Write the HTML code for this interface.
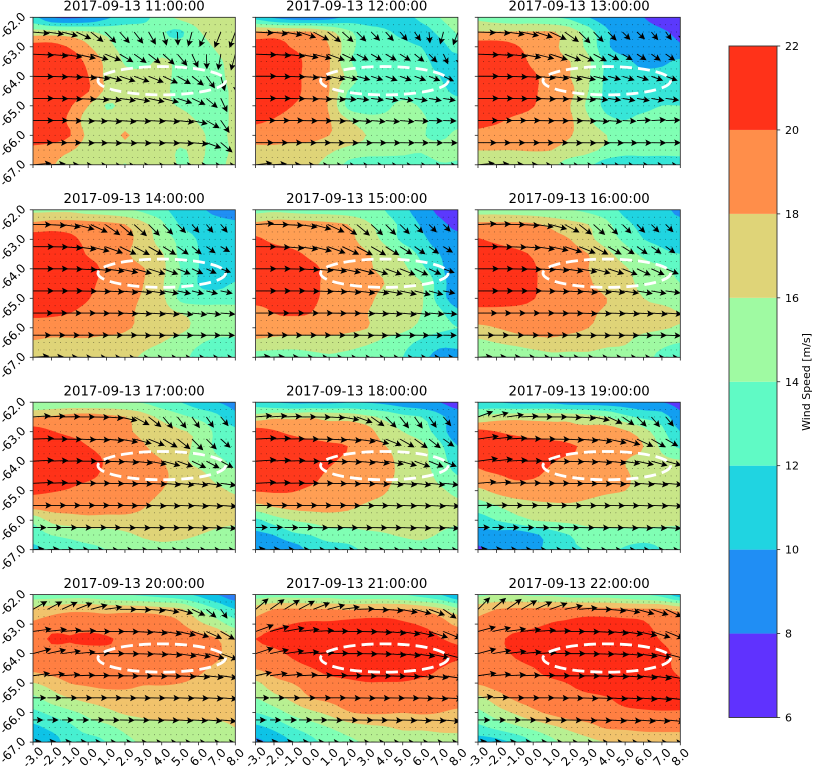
<!DOCTYPE html>
<html lang="en">
<head>
<meta charset="utf-8">
<title>Wind speed panels 2017-09-13</title>
<style>
html,body{margin:0;padding:0;background:#fff;width:815px;height:770px;overflow:hidden}
svg{display:block}
text{font-family:"DejaVu Sans","Liberation Sans",sans-serif;fill:#000}
</style>
</head>
<body>
<svg id="chart" width="815" height="770" viewBox="0 0 815 770" xmlns="http://www.w3.org/2000/svg"></svg>
<script>
const panelTimes = ["2017-09-13 11:00:00","2017-09-13 12:00:00","2017-09-13 13:00:00","2017-09-13 14:00:00","2017-09-13 15:00:00","2017-09-13 16:00:00","2017-09-13 17:00:00","2017-09-13 18:00:00","2017-09-13 19:00:00","2017-09-13 20:00:00","2017-09-13 21:00:00","2017-09-13 22:00:00"];
const panelBandCounts = [7,8,7,8,7,8,8,7,7,9,9,9];
const lonTicks = [-3,-2,-1,0,1,2,3,4,5,6,7,8];
const latTicks = [-62,-63,-64,-65,-66,-67];
const colorbarLevels = [6,8,10,12,14,16,18,20,22];
const ellipseCenter = [4.0,-64.15];
const ellipseRadii = [3.47,0.48];

const speed11 = [
[12.5,10,9.5,10,11.5,13,13.5,15,16.5,17,17,17],
[16.8,16.8,16.6,16.2,15.5,15,14.8,14.2,13.6,15.8,17,17],
[20.8,20.8,19.8,18.2,16.5,15.5,15,15,15,15,16.3,17],
[21,21,21,19.5,17.5,15.8,15.5,16.3,15.5,15,15.5,17],
[21,21,21,20,17.5,16.5,16.5,16.5,15.5,15,15.2,17],
[21,21,21,20.1,17.5,16.5,16.5,16.5,15.3,15,15,16.5],
[21,21,20.2,18,15.8,16.5,16.5,16.5,15.8,15,15,16.5],
[21,21,19.6,17,17,17,17,17,17,15.8,15,16.5],
[21,21,20.1,17.5,17,18.2,17,17,17,16.5,15.3,16.6],
[19.5,19,18.2,17,17,17,17,17,15.8,16.5,15,16.5],
[18.6,18.2,17,17,17,15.9,17,17,15.8,16.2,15.2,17]];
const speed12 = [
[11,9.5,8.5,8.3,9,10.5,11,11,11.3,12.5,14,15],
[18.2,18.3,18.2,18,16.5,14.5,12.8,12.3,11.5,11,12.5,14.2],
[21,21,19.8,19,18,15,13,12.8,12.5,12,11.3,13],
[21,21,21,19,18.1,14.5,12.7,12.8,12.6,12.4,11.5,11],
[21,21,20.8,19,18,15.5,13,12.8,12.6,12.4,12,10.8],
[21,21,20.8,19,18,14,13,13,13,12.8,12.5,11.5],
[21,21,20,19,17.8,13.5,13,13.5,14.5,13.8,13,12.8],
[20.3,19.8,19,19,18.1,16.2,14.8,14.5,14.5,14.3,13.3,13.2],
[19,19,19,18.8,18,17,16,15,14.8,14.2,13.5,14.5],
[17.5,17.5,17,16.8,16.3,15.5,15,14.8,14.5,14.2,14.8,14.5],
[17,17,16.7,16.2,15.5,13.5,12.8,12.8,13,13,13.8,13.8]];
const speed13 = [
[15.5,15,14.5,14.5,14,13.5,12,11,10.5,10,9.2,9.7],
[18.1,18.1,18.1,18.1,18.1,17,15,12.3,11.2,10.9,10.3,9.5],
[21,21,20.3,19,18.5,17,15.5,12.3,11.2,11.3,11.5,10.3],
[21,21,21,19.5,18.5,18,16.3,13.5,12.4,11.5,11.7,12.3],
[21,21,21,20.3,19,18,16.2,13.5,12.8,12.6,12.6,12.6],
[21,21,21,20.3,19,18.5,16,13.5,13,13,13,13.2],
[21,21,21,20.1,18.8,18,15.5,13.5,13.5,13.5,14,14],
[20.5,20.3,19.5,19,18.8,18.3,16.3,14.5,14,14.5,14.8,14.2],
[19.5,19,19,18.8,18.5,18.1,17,16,15,14.8,14.8,14.8],
[18,18,18,18.1,18,17.2,16.5,15.5,14.8,14.8,14.8,14.8],
[17,17,17,16.8,16.4,15,14.3,13,12.5,12.7,12.5,12.8]];
const speed14 = [
[15.5,15.5,15.5,15,14.8,14.2,13.5,12.5,11,10.3,9.5,8.8],
[18.5,19,19,18.8,18.5,18,16.5,14.5,11.8,11,10.7,10.4],
[21,20.8,20.4,19.5,19,18.5,17.2,15,13.5,11.8,11,10.5],
[21,21,21,19.8,19,18.3,17,16.2,13.5,12,10.7,10.5],
[21,21,21,20.8,19.5,18.8,18.1,16.5,14,12,11,10.8],
[21,21,21,20.5,19.3,18.8,18,16.2,14,11.9,11.2,12.2],
[21,21,21,20.1,19,18.5,17.8,16.5,13.5,13,13.2,13.5],
[20.4,20.3,20,19.3,19,18.5,17.5,16.8,16,15.2,14.8,14.5],
[19,19,19,19,19,18.3,17.5,17,16.5,15.5,15,14.8],
[17.8,17.5,17.5,17.5,17,17,16.5,16,15,14.2,13.5,13.5],
[16.5,16.5,16.5,16.5,16.5,16.3,15.8,15,14.5,13.5,13,13]];
const speed15 = [
[15.3,15.5,15.2,15,15,14.8,14.5,14,12.5,11,9.5,8.8],
[18.5,19,19,18.8,18.5,18,16.5,15,13.5,11.8,10.5,9.5],
[20.3,19.5,19,19,19,18.5,17.2,15.5,13.5,12.5,11,10.5],
[21,21,20.5,19.6,19,18.7,18.2,17,15.5,13.5,12,10.8],
[21,21,21,20.5,19.5,19,18.3,17.5,16.5,14.5,12.5,10.5],
[21,21,21,20.5,19.5,19,18.8,18,17,16.2,13,10.8],
[21,21,21,20.4,19.5,19,18.6,17.3,17,16.3,13,10.8],
[18.8,20,20.2,20,19,18.8,18.1,17,16.8,16,14.5,12.5],
[19,19,19,19,19,18.5,18.1,17,16.5,15.5,14.5,14],
[17.5,17.2,17,17,17,16.8,16.3,15.5,14.7,13.5,12.5,12.5],
[15,15,15,15.5,15.8,15.5,15,14.5,14,12.5,11.5,11.5]];
const speed16 = [
[15,15,14.8,14.5,14.2,14,13.5,12.8,11.5,11,10.5,9.5],
[18.5,18.5,18.5,18.3,17.5,16.7,16,14.5,12.5,11.5,11,10.5],
[20.1,19.5,19,19,18.5,18,16.5,15,13.5,12,11.5,10.8],
[21,21,20.5,19.8,19,18.7,18,16.5,15,13.5,12.5,12],
[21,21,21,20.2,19.2,19,18,17,16.2,15,14.3,13.5],
[21,21,21,20.2,19.3,19,18.3,17,16.5,15.5,14.8,14],
[20.5,21,21,20.1,19.2,19.2,18.8,18,16.8,16,15.5,15],
[19.5,19.2,19,19,18.9,18.8,18.3,17.7,17.3,16.5,16.5,16],
[17.5,18,18.6,19,19,18.5,18,17.5,17,16.5,16.2,15.8],
[15.5,16,16.5,17,17.3,17,17,16.5,16.2,15,14.5,14],
[14.5,14.5,14.5,15,15.5,15.5,15.5,15,15,14.5,13.5,12.5]];
const speed17 = [
[14,14.2,14.2,14,14.2,14,13.8,13,12,11,10,9.5],
[17.8,18.2,18.8,19,18.5,18,16.8,15.5,14.5,13.5,12.5,10.5],
[20.8,20.1,19.5,19,18.5,18.3,17.5,16.8,16.2,15.5,13.5,12.5],
[21,21,21,20,19.3,19,18.2,17,16.5,15.5,13.5,13],
[21,21,21,20.8,19.8,19.3,18.8,18.1,16.5,15.5,14.5,13.5],
[21,21,21,20.5,19.5,19,18.8,18.5,17,16.5,15.5,14.5],
[20.2,20.1,19.8,19,19,18.7,18.5,18,17,16.5,16.3,15.8],
[19,19,19,19,18.8,18.5,18.1,17.5,17,16.8,16.5,16.3],
[14.5,16.5,17,17.3,17.3,17.5,17.5,17.3,17,17,16.5,16.3],
[13,14,14.5,15,15,15.5,16.3,16.5,16.5,16,15.5,15.2],
[11.5,12.3,13,13.5,14,14.2,15,15.5,15,14.8,14.5,14.3]];
const speed18 = [
[13,12,11.5,11.5,11.5,11.8,11.8,11.5,11,10.5,10,9],
[16.8,17.5,17.5,17.8,17.5,17.3,16.5,15.5,14.5,14,12.5,11],
[20.8,20.2,19.5,18.9,18.2,18.8,18.8,17,16,15,13,10.5],
[21,21,21,20.9,20.5,20,19,18.1,17,16.5,14.5,12],
[21,21,21,21,20.3,19.5,19,18.7,17.3,16.5,15,12.8],
[21,21,21,20.7,19.5,19,18.8,18.5,17.5,16.8,15.5,14],
[20.1,20.2,20.1,19.6,19,19,18.8,18.2,17,16.8,16.3,15.5],
[17.5,18.3,18.7,18.8,18.7,18.4,17.8,17.3,17,17,16.8,16.3],
[13.5,15,16,16.5,17,17,17,17,17,17,16.8,16.5],
[11.5,12,13.5,14,15,15,15.5,15.8,16.2,16.5,15.8,15],
[10,10.5,10.8,12.5,13,13.5,14.3,15,15,15,15,15]];
const speed19 = [
[12.5,12,11.5,11.5,11.5,11,11,11,11,10.5,10,9.5],
[16.2,17,17.3,17.3,17.3,17.3,16.8,16,14.5,13.5,13,10.5],
[20.5,20,19.5,19,18.5,18.3,18.5,19,18.3,16.8,14.5,12],
[21,21,21,21,20.8,20.3,19.5,19,18.8,18,15.5,13.5],
[20.3,21,21,21,20.1,19.5,19,18.8,18,17.2,16.5,16.2],
[19.5,19.8,20.3,20.2,19.5,19.2,19,18.8,18.2,17.5,17,16.5],
[17.5,18.5,19,19,19,18.8,18.6,18.3,18,17.5,17,16.5],
[15,16,17,17.5,17.7,17.8,17.5,17,17,17,17,16.5],
[13,14,15,16,16.3,16.5,16.7,17,17,17,16.8,16.5],
[11,11.2,10.8,11.5,13,14,15,15,15,14.8,14.8,15],
[9.7,10.5,11,11.5,12.7,13.8,14,14.3,13.8,13.5,14,14.3]];
const speed20 = [
[13,13,13,13,12.5,12,11.5,11,10.5,9.5,8,6.8],
[16.5,17,17.5,17.5,17.3,17.3,17.2,16.8,16.3,14,12,10],
[18.3,19,19.2,19.2,18.8,19.2,19.2,19,18.2,16.5,15,13],
[19.2,20.2,20.1,20.3,20.2,19.6,19.4,19.4,19.2,18.8,18.1,16],
[19,19.2,19.4,19.4,19.5,19.7,19.7,19.6,19.5,19.2,18.5,16.3],
[18.5,19,19.3,19.5,19.6,19.6,19.7,19.5,19.4,18.5,17.5,16.8],
[15.9,16.8,18,18.3,18.6,18.7,18.2,18.2,18,17.5,17,16.8],
[13.5,15,16,16.7,17,17,17,17,17,17,17,17],
[11.5,12.5,13.5,14.5,15.5,16.2,16.5,16.8,16.8,16.7,16.5,16.2],
[9.5,10.5,11.5,13,13.5,14.5,15,15.3,15.3,15.3,15.5,16],
[8.5,9,10.8,11,12,13.5,14.2,14.5,14.5,14.5,14.5,14.5]];
const speed21 = [
[13,13.2,13,13,13,12.5,12.5,12.5,12,11,10,8],
[17,18,18.2,18,18,17.8,18,18.1,18,17.5,16.5,14.5],
[18.6,19.5,20,20.3,20.3,20.6,20.8,20.8,20.3,19.8,19,17.5],
[20,20.6,21,21,21,21,21,21,21,20.7,20.1,19.5],
[19,19.5,20.3,21,21,21,21,21,21,21,20.8,20.3],
[18.1,18.8,19.3,19.9,20.6,21,21,21,20.8,20.6,20,19.5],
[15.5,17.3,18,18.8,19.3,19.6,19.9,19.9,19.9,19.7,19.5,19.5],
[14,15.3,16.5,18,18.5,19,19.2,19.3,19.4,19.3,19.3,19.2],
[12,13,14.5,15.5,16.5,17.8,18.2,18.2,18,18.2,18,17.5],
[9.5,10.5,12,13,14,15,15.5,15.8,16.3,16.3,16.5,16.5],
[7.5,8.5,10,11.5,12.5,13.5,14.2,14.8,15,15,15.2,15.3]];
const speed22 = [
[13.5,14,14,13.5,13.5,13,13,13,12.5,12,11,8.5],
[17.2,18,18.3,18.3,18.5,18.7,18.6,18.5,18.3,18.2,18.1,17.5],
[18.4,18.8,19,19.5,20.1,20.3,20.8,20.8,20.6,20.3,19,18.5],
[18.7,19.5,20.5,21,21,21,21,21,21,20.9,19.8,19.2],
[19,19.4,20.2,21,21,21,21,21,21,21,20.5,19.5],
[19,19,19.4,19.9,20.8,21,21,21,21,21,20.4,19.7],
[18.2,18.8,19,19.3,19.6,20.1,21,21,21,21,20.9,20.2],
[15.5,17,18.3,18.8,19,19.2,19.5,19.9,20.5,20.9,21,20.7],
[13.5,15,16.2,17.5,18.4,19,19.2,19.4,19.6,19.7,19.8,19.8],
[11.5,12.5,13.5,14.5,15.5,16.5,17.3,18.2,18.3,18.5,18.5,18.5],
[9,9.3,10.3,12,13.5,14.7,15.5,16,16.5,16.8,17,17]];
const panelSpeeds = [speed11,speed12,speed13,speed14,speed15,speed16,speed17,speed18,speed19,speed20,speed21,speed22];

const angle11 = [
[5,8,14,25,38,45,48,52,60,75,88,105,115,112,110],
[3,5,8,12,18,22,30,35,38,42,50,65,88,100,105],
[1,2,3,5,8,14,18,20,22,25,30,38,55,75,85],
[0,1,2,3,5,7,8,10,12,14,18,25,40,65,75],
[0,0,1,2,3,4,4,3,3,4,6,12,30,55,70],
[0,0,0,1,1,2,2,2,2,2,3,5,20,40,60],
[-5,-3,0,2,3,4,4,4,4,3,3,3,4,4,5]];
const angle12 = [
[3,6,10,18,28,38,42,45,45,48,50,55,85,105,110],
[2,4,6,10,14,20,25,28,30,30,32,38,45,65,80],
[0,1,2,4,7,10,12,15,18,20,20,20,22,25,40],
[0,0,1,2,3,4,5,7,8,10,10,10,10,10,10],
[0,0,0,1,1,2,3,4,5,5,5,3,2,2,2],
[0,0,0,0,0,1,1,1,1,1,1,1,1,1,1],
[-6,-3,0,2,3,4,5,5,5,5,5,5,5,5,5]];
const angle13 = [
[2,4,8,12,18,25,35,45,45,45,45,42,50,55,75],
[2,4,6,10,14,18,22,25,28,28,30,32,35,35,25],
[0,1,2,3,5,7,10,12,14,15,18,18,20,20,15],
[0,0,1,1,2,2,3,5,6,8,10,10,10,8,7],
[0,0,0,0,1,1,1,2,4,5,3,-2,-3,-2,2],
[0,0,0,0,0,0,1,1,1,1,1,1,1,0,0],
[-5,-3,-1,0,2,3,4,4,5,5,5,4,4,4,4]];
const angle14 = [
[0,3,8,15,25,35,40,42,45,45,45,48,50,50,45],
[0,1,4,8,14,20,25,28,30,32,35,38,35,30,25],
[0,0,1,3,5,8,12,15,18,20,22,25,25,20,15],
[0,0,0,1,2,3,5,6,8,10,12,14,14,12,10],
[0,0,0,0,1,1,2,3,4,5,6,6,6,5,5],
[0,0,0,0,0,0,0,1,1,1,1,1,1,1,1],
[-4,-2,0,1,2,2,3,3,3,3,3,3,3,3,3]];
const angle15 = [
[-4,0,3,8,15,25,35,40,42,45,45,45,45,45,48],
[0,2,5,8,14,20,25,28,30,32,32,35,35,32,30],
[0,0,1,3,5,8,12,15,18,20,22,25,25,20,15],
[0,0,0,1,2,3,5,7,8,10,12,14,15,12,10],
[0,0,0,0,0,1,1,2,3,4,5,5,5,5,5],
[0,0,0,0,0,0,0,1,1,1,1,1,1,1,1],
[-3,-2,0,1,2,2,3,3,3,3,3,3,3,3,3]];
const angle16 = [
[-3,-2,0,3,8,15,28,38,42,45,45,45,45,45,45],
[0,1,2,4,8,12,18,22,28,30,32,35,35,35,30],
[0,0,1,2,3,5,8,10,15,18,22,25,25,22,20],
[0,0,0,0,1,2,3,5,5,6,8,10,10,8,8],
[0,0,0,0,0,1,1,2,2,2,3,3,4,4,5],
[0,0,0,0,0,0,0,1,1,1,1,1,1,2,2],
[-3,-1,0,1,2,2,2,2,2,2,2,2,2,2,2]];
const angle17 = [
[-4,-3,-1,0,1,4,12,28,38,50,52,55,55,50,50],
[-2,0,1,2,3,5,10,15,22,30,38,45,45,42,35],
[-3,-2,-1,0,1,2,4,6,10,15,20,25,28,28,22],
[-3,-2,-1,0,0,1,2,2,3,5,6,6,8,8,8],
[0,0,0,0,0,0,1,1,2,2,2,3,3,4,5],
[0,0,0,0,0,0,1,1,1,1,1,2,2,3,3],
[-5,-3,0,1,2,2,2,2,2,2,2,2,2,2,2]];
const angle18 = [
[-5,-4,-2,0,1,3,10,20,35,45,52,55,55,50,55],
[-3,-2,-1,0,1,3,5,8,15,22,30,35,38,35,30],
[-4,-3,-2,0,1,2,3,5,7,10,15,20,22,22,20],
[-3,-2,-1,0,0,1,2,2,3,5,5,6,6,6,8],
[0,0,0,0,0,0,1,1,1,2,2,2,3,3,4],
[-1,-1,0,0,1,1,1,1,1,1,2,2,2,3,3],
[-5,-3,0,1,2,2,2,2,2,2,2,2,2,2,2]];
const angle19 = [
[-20,-15,-8,-3,0,0,2,5,12,25,35,45,50,50,50],
[-8,-6,-3,-1,0,1,3,5,8,12,18,25,30,30,28],
[-8,-6,-3,-1,0,1,2,3,5,6,8,12,15,15,15],
[-5,-4,-2,-1,0,0,1,1,2,3,3,4,5,5,6],
[-1,-1,0,0,0,0,1,1,1,1,1,2,2,3,3],
[-1,-1,0,0,1,1,1,1,1,1,2,2,2,3,3],
[-5,-3,0,1,2,2,2,2,2,2,2,2,2,2,2]];
const angle20 = [
[-30,-28,-25,-22,-15,-8,0,2,5,10,15,25,40,55,60],
[-8,-6,-4,-2,0,0,1,3,5,8,12,18,25,30,30],
[-15,-12,-8,-5,-2,0,1,2,3,5,8,10,15,20,20],
[-8,-6,-4,-2,-1,0,1,1,2,2,3,5,6,8,10],
[0,0,0,0,0,0,1,1,1,1,2,2,3,4,5],
[0,0,0,0,0,1,1,1,2,2,3,3,4,5,6],
[-6,-4,-2,0,1,2,2,2,2,2,2,2,2,2,2]];
const angle21 = [
[-40,-35,-32,-28,-22,-15,-8,-2,2,5,10,15,20,35,45],
[-20,-15,-10,-6,-3,-1,0,1,3,5,8,12,18,22,25],
[-18,-12,-8,-5,-3,-1,0,1,2,4,6,8,12,15,15],
[-12,-8,-5,-3,-2,-1,0,1,1,2,3,5,6,8,10],
[0,0,0,0,0,0,1,1,1,1,1,2,3,3,4],
[0,0,0,0,0,1,1,1,1,2,2,3,3,5,5],
[-6,-4,-2,0,1,2,2,2,2,2,2,2,2,2,2]];
const angle22 = [
[-45,-40,-35,-30,-25,-20,-12,-5,0,5,10,15,18,25,30],
[-15,-12,-8,-6,-4,-2,0,1,3,5,8,12,18,22,28],
[-15,-10,-7,-5,-3,-1,0,1,2,3,5,8,12,15,15],
[-8,-5,-3,-2,-1,0,1,1,2,3,4,6,8,10,12],
[-5,-2,0,0,0,1,1,2,2,3,3,4,5,6,6],
[0,0,0,0,1,1,1,2,2,3,3,4,4,5,5],
[-6,-4,-2,0,1,2,2,2,2,2,2,2,2,2,2]];
const panelAngles = [angle11,angle12,angle13,angle14,angle15,angle16,angle17,angle18,angle19,angle20,angle21,angle22];

const NS = "http://www.w3.org/2000/svg";
const svg = document.getElementById("chart");
const colX = [33,255.6,478];
const rowY = [17.3,209.8,402.2,594.6];
const panelW = 202.3, panelH = 147.5;
const LON0 = -3, LON1 = 8, LAT0 = -62, LAT1 = -67;

function make(tag, parent){
  const e = document.createElementNS(NS, tag);
  parent.appendChild(e);
  return e;
}
function hex(v){
  return Math.round(Math.max(0, Math.min(1, v)) * 255).toString(16).padStart(2, "0");
}
function rainbow(t){
  return "#" + hex(Math.abs(2 * t - 0.5)) + hex(Math.sin(Math.PI * t)) + hex(Math.cos(Math.PI * t / 2));
}
function cubic(a, b, c, d, t){
  return b + 0.5 * t * (c - a + t * (2 * a - 5 * b + 4 * c - d + t * (3 * (b - c) + d - a)));
}
function sampleField(f, gx, gy){
  const ny = f.length, nx = f[0].length;
  const ix = Math.max(0, Math.min(nx - 2, Math.floor(gx)));
  const iy = Math.max(0, Math.min(ny - 2, Math.floor(gy)));
  const tx = gx - ix, ty = gy - iy;
  const cols = [];
  for (let j = -1; j <= 2; j++){
    const r = f[Math.max(0, Math.min(ny - 1, iy + j))];
    cols.push(cubic(r[Math.max(0, ix - 1)], r[ix], r[ix + 1], r[Math.min(nx - 1, ix + 2)], tx));
  }
  return cubic(cols[0], cols[1], cols[2], cols[3], ty);
}
function regionPath(fine, level, sx, sy){
  let d = "";
  const ny = fine.length, nx = fine[0].length;
  const fmt = v => v.toFixed(1);
  for (let j = 0; j < ny - 1; j++){
    let run = -1;
    for (let i = 0; i <= nx - 1; i++){
      const full = i < nx - 1 && fine[j][i] >= level && fine[j][i + 1] >= level && fine[j + 1][i] >= level && fine[j + 1][i + 1] >= level;
      if (full){
        if (run < 0) run = i;
        continue;
      }
      if (run >= 0){
        d += "M" + fmt(sx(run)) + " " + fmt(sy(j)) + "H" + fmt(sx(i)) + "V" + fmt(sy(j + 1)) + "H" + fmt(sx(run)) + "Z";
        run = -1;
      }
      if (i === nx - 1) break;
      const corners = [[i, j], [i + 1, j], [i + 1, j + 1], [i, j + 1]];
      const pts = [];
      for (let k = 0; k < 4; k++){
        const p = corners[k], q = corners[(k + 1) % 4];
        const vp = fine[p[1]][p[0]], vq = fine[q[1]][q[0]];
        if (vp >= level) pts.push(p);
        if ((vp >= level) !== (vq >= level)){
          const t = (level - vp) / (vq - vp);
          pts.push([p[0] + (q[0] - p[0]) * t, p[1] + (q[1] - p[1]) * t]);
        }
      }
      if (pts.length > 2){
        d += "M" + pts.map(p => fmt(sx(p[0])) + " " + fmt(sy(p[1]))).join("L") + "Z";
      }
    }
  }
  return d;
}

const defs = make("defs", svg);
panelTimes.forEach(function(time, idx){
  const col = idx % 3, row = Math.floor(idx / 3);
  const left = colX[col], top = rowY[row];
  const xOf = lon => left + (lon - LON0) / (LON1 - LON0) * panelW;
  const yOf = lat => top + (lat - LAT0) / (LAT1 - LAT0) * panelH;
  const field = panelSpeeds[idx];
  const angles = panelAngles[idx];
  const n = panelBandCounts[idx];

  const clip = make("clipPath", defs);
  clip.setAttribute("id", "clip" + idx);
  const cr = make("rect", clip);
  cr.setAttribute("x", left); cr.setAttribute("y", top);
  cr.setAttribute("width", panelW); cr.setAttribute("height", panelH);

  const g = make("g", svg);
  
  

  const body = make("g", g);
  body.setAttribute("clip-path", "url(#clip" + idx + ")");
  
  

  const base = make("rect", body);
  base.setAttribute("x", left); base.setAttribute("y", top);
  base.setAttribute("width", panelW); base.setAttribute("height", panelH);
  base.setAttribute("fill", rainbow(0.5 / n));
  
  

  const up = 3;
  const fine = [];
  const rows = (field.length - 1) * up, cols = (field[0].length - 1) * up;
  for (let j = 0; j <= rows; j++){
    const r = [];
    for (let i = 0; i <= cols; i++) r.push(sampleField(field, i / up, j / up));
    fine.push(r);
  }
  const sx = i => left + i / cols * panelW;
  const sy = j => top + j / rows * panelH;
  for (let b = 1; b < n; b++){
    const level = 22 - 2 * (n - b);
    const d = regionPath(fine, level, sx, sy);
    if (!d) continue;
    const p = make("path", body);
    p.setAttribute("d", d);
    p.setAttribute("fill", rainbow((b + 0.5) / n));
    p.setAttribute("stroke", rainbow((b + 0.5) / n));
    p.setAttribute("stroke-width", "0.35");
    
    
  }

  let dots = "";
  for (let a = 1; a < 37; a++){
    for (let c = 1; c < 20; c++){
      dots += "M" + xOf(LON0 + a * 0.3).toFixed(1) + " " + yOf(LAT0 - c * 0.25).toFixed(1) + "h.01";
    }
  }
  const dotPath = make("path", body);
  dotPath.setAttribute("d", dots);
  dotPath.setAttribute("stroke", "#000");
  dotPath.setAttribute("stroke-width", "0.9");
  dotPath.setAttribute("stroke-linecap", "round");
  dotPath.setAttribute("opacity", "0.55");
  dotPath.setAttribute("fill", "none");
  
  

  angles.forEach(function(rowAngles, r){
    const lat = -62.5 - 0.75 * r;
    rowAngles.forEach(function(deg, c){
      const lon = LON0 + c * (LON1 - LON0) / 14;
      const speed = sampleField(field, lon - LON0, (LAT0 - lat) * 2);
      const len = speed * 1.0;
      const t = deg * Math.PI / 180;
      const x0 = xOf(lon), y0 = yOf(lat);
      const ux = Math.cos(t), uy = Math.sin(t), nx = -uy, ny = ux;
      const at = (al, ac) => (x0 + ux * al + nx * ac).toFixed(1) + " " + (y0 + uy * al + ny * ac).toFixed(1);
      const a = make("path", body);
      a.setAttribute("d", "M" + at(0, -0.45) + "L" + at(len - 5.4, -0.45) + "L" + at(len - 6.6, -3.3) + "L" + at(len, 0) + "L" + at(len - 6.6, 3.3) + "L" + at(len - 5.4, 0.45) + "L" + at(0, 0.45) + "Z");
      a.setAttribute("fill", "#000");
      
      
    });
  });

  const ell = make("ellipse", body);
  ell.setAttribute("cx", xOf(ellipseCenter[0]));
  ell.setAttribute("cy", yOf(ellipseCenter[1]));
  ell.setAttribute("rx", ellipseRadii[0] / (LON1 - LON0) * panelW);
  ell.setAttribute("ry", ellipseRadii[1] / (LAT0 - LAT1) * panelH);
  ell.setAttribute("fill", "none");
  ell.setAttribute("stroke", "#fff");
  ell.setAttribute("stroke-width", "2.8");
  ell.setAttribute("stroke-dasharray", "12 6");
  
  

  const frame = make("rect", g);
  frame.setAttribute("x", left); frame.setAttribute("y", top);
  frame.setAttribute("width", panelW); frame.setAttribute("height", panelH);
  frame.setAttribute("fill", "none");
  frame.setAttribute("stroke", "#222");
  frame.setAttribute("stroke-width", "0.8");
  
  

  const title = make("text", g);
  title.textContent = time;
  title.setAttribute("x", left + panelW / 2);
  title.setAttribute("y", top - 6.8);
  title.setAttribute("text-anchor", "middle");
  title.setAttribute("font-size", "13.3");
  
  

  lonTicks.forEach(function(v){
    const tk = make("line", g);
    tk.setAttribute("x1", xOf(v)); tk.setAttribute("x2", xOf(v));
    tk.setAttribute("y1", top + panelH); tk.setAttribute("y2", top + panelH + 3.2);
    tk.setAttribute("stroke", "#222"); tk.setAttribute("stroke-width", "0.8");
    
    
    if (row === 3){
      const lb = make("text", g);
      lb.textContent = v.toFixed(1);
      const cx = xOf(v), cy = top + panelH + 15;
      lb.setAttribute("x", cx); lb.setAttribute("y", cy + 4.2);
      lb.setAttribute("text-anchor", "middle");
      lb.setAttribute("font-size", "12");
      lb.setAttribute("transform", "rotate(-45 " + cx + " " + cy + ")");
      
      
    }
  });
  latTicks.forEach(function(v){
    const tk = make("line", g);
    tk.setAttribute("x1", left - 3.2); tk.setAttribute("x2", left);
    tk.setAttribute("y1", yOf(v)); tk.setAttribute("y2", yOf(v));
    tk.setAttribute("stroke", "#222"); tk.setAttribute("stroke-width", "0.8");
    
    
    if (col === 0){
      const lb = make("text", g);
      lb.textContent = v.toFixed(1);
      const cx = 12.5, cy = yOf(v) + 8;
      lb.setAttribute("x", cx); lb.setAttribute("y", cy + 4.2);
      lb.setAttribute("text-anchor", "middle");
      lb.setAttribute("font-size", "12");
      lb.setAttribute("transform", "rotate(-45 " + cx + " " + cy + ")");
      
      
    }
  });
});

const cbar = make("g", svg);


const cbX = 729, cbW = 48, cbTop = 46, cbBottom = 717.5;
const cbY = v => cbBottom - (v - colorbarLevels[0]) / (colorbarLevels[colorbarLevels.length - 1] - colorbarLevels[0]) * (cbBottom - cbTop);
colorbarLevels.slice(0, -1).forEach(function(v, i){
  const r = make("rect", cbar);
  r.setAttribute("x", cbX); r.setAttribute("width", cbW);
  r.setAttribute("y", cbY(colorbarLevels[i + 1]));
  r.setAttribute("height", cbY(v) - cbY(colorbarLevels[i + 1]));
  r.setAttribute("fill", rainbow((i + 0.5) / (colorbarLevels.length - 1)));
  
  
});
const cbFrame = make("rect", cbar);
cbFrame.setAttribute("x", cbX); cbFrame.setAttribute("y", cbTop);
cbFrame.setAttribute("width", cbW); cbFrame.setAttribute("height", cbBottom - cbTop);
cbFrame.setAttribute("fill", "none");
cbFrame.setAttribute("stroke", "#333");
cbFrame.setAttribute("stroke-width", "0.9");


colorbarLevels.forEach(function(v){
  const tk = make("line", cbar);
  tk.setAttribute("x1", cbX + cbW); tk.setAttribute("x2", cbX + cbW + 3.2);
  tk.setAttribute("y1", cbY(v)); tk.setAttribute("y2", cbY(v));
  tk.setAttribute("stroke", "#222"); tk.setAttribute("stroke-width", "0.8");
  
  
  const lb = make("text", cbar);
  lb.textContent = String(v);
  lb.setAttribute("x", 785);
  lb.setAttribute("y", cbY(v) + 4);
  lb.setAttribute("font-size", "11");
  
  
});
const cbLabel = make("text", cbar);
cbLabel.textContent = "Wind Speed [m/s]";
cbLabel.setAttribute("x", 0); cbLabel.setAttribute("y", 0);
cbLabel.setAttribute("text-anchor", "middle");
cbLabel.setAttribute("font-size", "11");
cbLabel.setAttribute("transform", "translate(810 382) rotate(-90)");


</script>
</body>
</html>
